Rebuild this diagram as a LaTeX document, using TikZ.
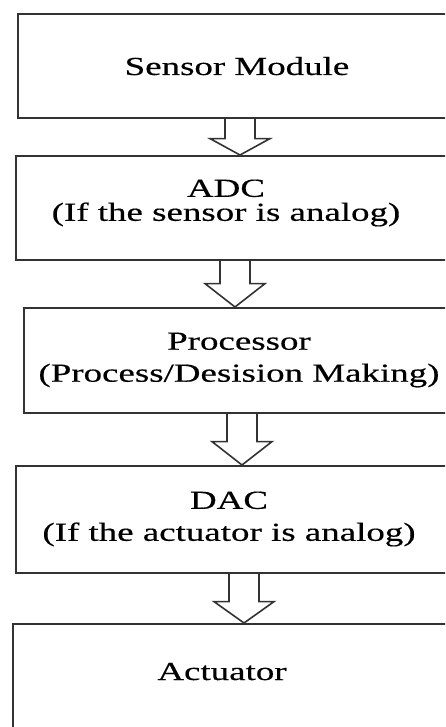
\documentclass[tikz,border=0pt]{standalone}
\usepackage{fontspec}
\newfontfamily\boxfont{Liberation Serif}[FakeStretch=1.42, FakeBold=0.4]
\tikzset{
  blockbox/.style={draw=black!80, line width=1.6pt, anchor=north west, minimum width=460pt, inner sep=0pt},
  blocktext/.style={font=\boxfont\fontsize{26}{24}\selectfont, align=center, inner sep=0pt},
  flowline/.style={draw=black!80, line width=1.6pt, line join=miter}
}

\begin{document}
\begin{tikzpicture}[x=1pt, y=-1pt]
    \useasboundingbox [fill=white] (0,0) rectangle (445,727);
    \clip (0,0) rectangle (445,727); % boxes run off the right edge

    \node [blockbox, minimum height=104pt] (sensor) at (17,13) {}; % Sensor Module
    \node [blockbox, minimum height=104pt] (adc) at (15,155) {}; % ADC
    \node [blockbox, minimum height=105pt] (proc) at (23,307) {}; % Processor
    \node [blockbox, minimum height=107pt] (dac) at (15,465) {}; % DAC
    \node [blockbox, minimum height=160pt] (act) at (12,623) {}; % Actuator

    \node [blocktext, anchor=base] (sensor-t) at (237,75) {Sensor Module};
    \node [blocktext] (adc-t) at (226,203) {ADC\\(If the sensor is analog)};
    \node [blocktext, font=\boxfont\fontsize{26}{32}\selectfont] (proc-t) at (239,360) {Processor\\(Process/Desision Making)};
    \node [blocktext, font=\boxfont\fontsize{26}{32}\selectfont] (dac-t) at (229,519) {DAC\\(If the actuator is analog)};
    \node [blocktext, anchor=base] (act-t) at (222,680) {Actuator};

    % hollow arrows between the blocks: from/to/x/stem length
    \foreach \a/\b/\x/\s in {sensor/adc/240/20, adc/proc/235/23, proc/dac/242/28, dac/act/244/28}
        \draw [flowline] (\x-15,0 |- \a.south) -- ++(0,\s) coordinate (lw) -- ++(-15,0)
            -- (\x,0 |- \b.north) -- (\x+30,0 |- lw) -- (\x+15,0 |- lw) -- (\x+15,0 |- \a.south);
\end{tikzpicture}
\end{document}
